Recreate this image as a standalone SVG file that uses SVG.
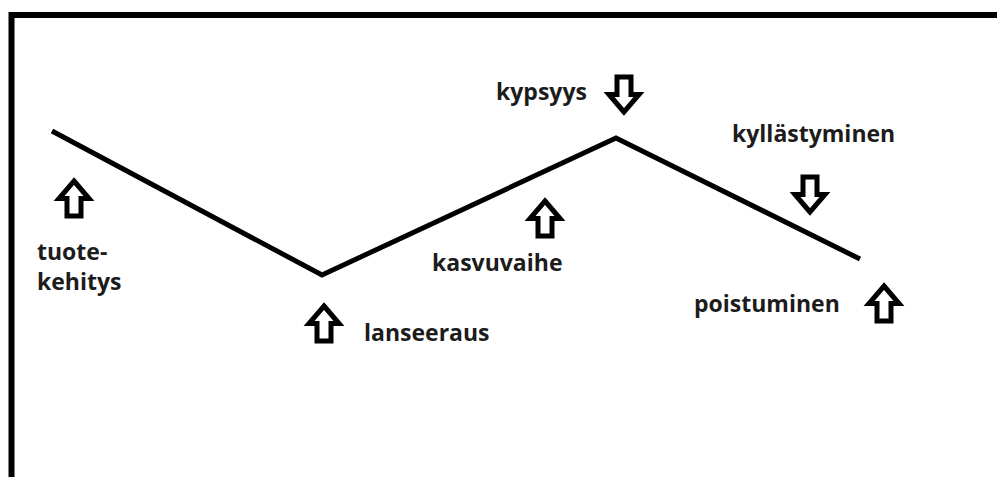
<svg xmlns="http://www.w3.org/2000/svg" width="997" height="477" viewBox="0 0 997 477">
  <style>
    .lbl { font-family: "Open Sans", "Liberation Sans", sans-serif; font-weight: bold; font-size: 23px; fill: #1c1c1c; }
    .frame { fill: none; stroke: #000; stroke-width: 6; }
    .curve { fill: none; stroke: #000; stroke-width: 5; stroke-linejoin: miter; }
    .arrow { fill: #fff; stroke: #000; stroke-width: 5; stroke-linejoin: miter; }
  </style>
  <defs>
    <!-- hollow block arrow pointing up, tip at origin -->
    <path id="up" class="arrow" d="M0,0 L15,17.5 L7,17.5 L7,35 L-7,35 L-7,17.5 L-15,17.5 Z"/>
  </defs>
  <rect width="997" height="477" fill="#fff"/>
  <!-- open frame: left and top edges -->
  <path class="frame" d="M11.5,477 L11.5,15 L997,15"/>

  <g id="connectors">
    <polyline class="curve" points="52,131 322,275 616,138 860,259"/>
  </g>

  <g id="tuotekehitys">
    <use href="#up" transform="translate(74,181)"/>
    <text class="lbl" x="37" y="260">tuote-</text>
    <text class="lbl" x="37" y="290">kehitys</text>
  </g>
  <g id="lanseeraus">
    <use href="#up" transform="translate(324,306)"/>
    <text class="lbl" x="364" y="341">lanseeraus</text>
  </g>
  <g id="kasvuvaihe">
    <use href="#up" transform="translate(545,201)"/>
    <text class="lbl" x="432" y="271">kasvuvaihe</text>
  </g>
  <g id="kypsyys">
    <use href="#up" transform="translate(624,112) rotate(180)"/>
    <text class="lbl" x="496" y="100">kypsyys</text>
  </g>
  <g id="kyllastyminen">
    <use href="#up" transform="translate(810,212) rotate(180)"/>
    <text class="lbl" x="732" y="142">kyllästyminen</text>
  </g>
  <g id="poistuminen">
    <use href="#up" transform="translate(884,286)"/>
    <text class="lbl" x="694" y="312">poistuminen</text>
  </g>
</svg>
